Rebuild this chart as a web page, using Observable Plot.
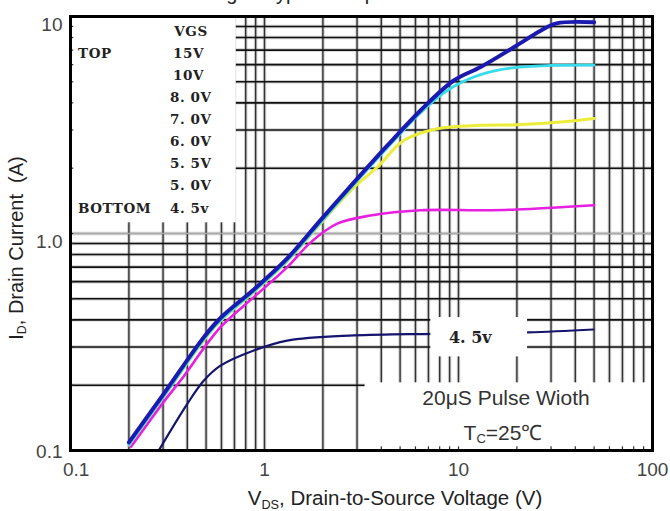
<!DOCTYPE html>
<html><head><meta charset="utf-8">
<script src="https://cdn.jsdelivr.net/npm/d3@7"></script>
<script src="https://cdn.jsdelivr.net/npm/@observablehq/plot@0.6"></script>
<style>
body{margin:0;background:#fff;}
#wrap{position:relative;width:670px;height:511px;overflow:hidden;font-family:"Liberation Sans",Arial,sans-serif;}
.t{position:absolute;white-space:nowrap;color:#333;transform:translate(-50%,-50%);}
.t sub{font-size:0.62em;vertical-align:-0.3em;}
</style></head><body>
<div id="wrap"></div>
<script>
// ---- data ----
const vds15 = [0.2, 0.303, 0.487, 0.593, 0.881, 1.31, 1.94, 2.89, 4.29, 6.37, 9.46, 13, 19.2, 26.5, 32, 50];
const id15  = [0.109, 0.183, 0.333, 0.408, 0.552, 0.768, 1.15, 1.72, 2.54, 3.69, 5.07, 5.85, 7.2, 8.6, 9.3, 9.4];
const vds10 = [0.2, 0.303, 0.487, 0.593, 0.881, 1.31, 1.94, 2.89, 4.29, 6.37, 8.4, 10.5, 13, 19, 30, 50];
const id10  = [0.106, 0.178, 0.325, 0.398, 0.54, 0.75, 1.12, 1.68, 2.48, 3.6, 4.45, 5.0, 5.4, 5.8, 5.95, 5.97];
const vds7  = [0.2, 0.303, 0.487, 0.593, 0.881, 1.31, 1.94, 2.89, 3.81, 5.22, 7.77, 13, 20, 35, 50];
const id7   = [0.106, 0.178, 0.322, 0.396, 0.537, 0.745, 1.11, 1.63, 2.02, 2.68, 3.04, 3.15, 3.17, 3.27, 3.39];
const vds55 = [0.205, 0.303, 0.369, 0.593, 0.881, 1.31, 1.73, 2.37, 3.52, 6.37, 13, 20, 50];
const id55  = [0.104, 0.168, 0.21, 0.37, 0.509, 0.70, 0.91, 1.11, 1.21, 1.28, 1.28, 1.29, 1.35];
const vds45 = [0.285, 0.40, 0.487, 0.593, 0.881, 1.31, 2.89, 7.47, 22.7, 49.6];
const id45  = [0.1, 0.164, 0.21, 0.246, 0.289, 0.321, 0.339, 0.345, 0.35, 0.361];

const xTicks = [0.1, 1, 10, 100];
const xTickLabels = ["0.1", "1", "10", "100"];
const yTicks = [0.1, 1, 10];
const yTickLabels = ["0.1", "1.0", "10"];
const gridX = [0.2,0.3,0.4,0.5,0.6,0.7,0.8,0.9,1,2,3,4,5,6,7,8,9,10,20,30,40,50,60,70,80,90];
const gridY = [0.2,0.3,0.4,0.5,0.6,0.7,0.8,0.9,1,2,3,4,5,6,7,8,9];
const legendLeft  = ["", "TOP", "", "", "", "", "", "", "BOTTOM"];
const legendRight = ["VGS", "15V", "10V", "8. 0V", "7. 0V", "6. 0V", "5. 5V", "5. 0V", "4. 5v"];

const series = [
  {vds: vds55, id: id55, color: "#e81fe0", w: 2.6},
  {vds: vds7,  id: id7,  color: "#ecec3a", w: 3},
  {vds: vds10, id: id10, color: "#36dcec", w: 2.8},
  {vds: vds45, id: id45, color: "#14146e", w: 2.2},
  {vds: vds15, id: id15, color: "#1a1ab0", w: 4}
];
const toRows = s => s.vds.map((v, i) => ({x: v, y: s.id[i]}));
const serifFont = "'DejaVu Serif', 'Liberation Serif', serif";

const chart = Plot.plot({
  width: 670, height: 511,
  marginLeft: 70, marginRight: 18, marginTop: 16, marginBottom: 61,
  x: {type: "log", domain: [0.1, 100], ticks: xTicks, tickFormat: d => xTickLabels[xTicks.indexOf(d)] ?? "", tickSize: 0, tickPadding: 12, label: null},
  y: {type: "log", domain: [0.1, 10], ticks: yTicks, tickFormat: d => yTickLabels[yTicks.indexOf(d)] ?? "", tickSize: 0, tickPadding: 8, label: null},
  style: {fontFamily: "'Liberation Sans', Arial, sans-serif", fontSize: "19px", color: "#444", background: "white", overflow: "visible"},
  marks: [
    // scanned-look grid
    Plot.ruleX(gridX, {stroke: "#999", strokeWidth: 3.5, strokeOpacity: 0.45}),
    Plot.ruleY(gridY, {stroke: "#999", strokeWidth: 3.5, strokeOpacity: 0.45}),
    Plot.ruleX(gridX, {stroke: "#333", strokeWidth: 1.4}),
    Plot.ruleY(gridY.filter(d => d !== 1), {stroke: "#111", strokeWidth: 1.6}),
    Plot.ruleY([1], {stroke: "#aaa", strokeWidth: 1.6}),
    // white legend / annotation areas
    Plot.rect([0], {x1: 0.1, x2: 0.715, y1: 1.12, y2: 10, fill: "white"}),
    Plot.rect([0], {x1: 3.3, x2: 100, y1: 0.1, y2: 0.205, fill: "white"}),
    // minor edge ticks
    Plot.ruleX(gridX.filter(d => d > 3.3), {y1: 0.1, y2: 0.104, stroke: "#333", strokeWidth: 1.2}),
    Plot.ruleY(gridY, {x1: 0.1, x2: 0.104, stroke: "#333", strokeWidth: 1.2}),
    // curves
    ...series.map(s => Plot.line(toRows(s), {x: "x", y: "y", stroke: s.color, strokeWidth: s.w, curve: "catmull-rom"})),
    // label box on the 4.5v curve
    Plot.rect([0], {x1: 7.2, x2: 22.7, y1: 0.27, y2: 0.41, fill: "white"}),
    Plot.text(["4. 5v"], {x: 11.5, y: 0.332, text: d => d, fontFamily: serifFont, fontWeight: "bold", fontSize: 16, fill: "#222", letterSpacing: "0.5px"}),
    Plot.frame({stroke: "#000", strokeWidth: 3})
  ]
});

const wrap = document.getElementById("wrap");
wrap.appendChild(chart);
const svg = d3.select(chart);

// nudge y tick labels as in the scan (bottom one kept clear of the x label)
svg.selectAll("g[aria-label^='y-axis'] text").each(function() {
  const t = d3.select(this);
  t.attr("dy", t.text() === "0.1" ? "0.1em" : "0.45em");
});
svg.selectAll("g[aria-label^='x-axis'] text").each(function() {
  const t = d3.select(this);
  if (t.text() === "0.1") t.attr("dx", "0.3em");
});

// legend rows
const lg = svg.append("g").attr("font-family", serifFont).attr("font-weight", "bold")
  .attr("font-size", 13.5).attr("fill", "#222").attr("letter-spacing", "0.6px");
legendRight.forEach((r, i) => {
  const yy = 31 + i * 22.1;
  if (legendLeft[i]) lg.append("text").attr("x", 78).attr("y", yy).attr("dy", "0.35em").attr("text-anchor", "start").text(legendLeft[i]);
  if (i === 0) lg.append("text").attr("x", 191).attr("y", yy).attr("dy", "0.35em").attr("text-anchor", "middle").text(r);
  else lg.append("text").attr("x", r.length > 3 ? 170 : 173).attr("y", yy).attr("dy", "0.35em").attr("text-anchor", "start").text(r);
});

// html texts with subscripts
function addText(html, cx, cy, style) {
  const d = document.createElement("div");
  d.className = "t";
  d.innerHTML = html;
  d.style.left = cx + "px";
  d.style.top = cy + "px";
  Object.assign(d.style, style || {});
  wrap.appendChild(d);
  return d;
}
addText("Fig 1. Typical Output Characteristics", 370, -7, {fontSize: "20px", color: "#222"});
addText("V<sub>DS</sub>, Drain-to-Source Voltage (V)", 395, 499, {fontSize: "20.5px", color: "#222"});
addText("I<sub>D</sub>, Drain Current&nbsp;&nbsp;(A)", 17, 248, {fontSize: "20px", color: "#222", transform: "translate(-50%,-50%) rotate(-90deg)"});
addText("20μS Pulse Wioth", 506, 398, {fontSize: "21px", color: "#333"});
addText("T<sub>C</sub>=25℃", 503, 432, {fontSize: "21px", color: "#333"});
</script>
</body></html>
